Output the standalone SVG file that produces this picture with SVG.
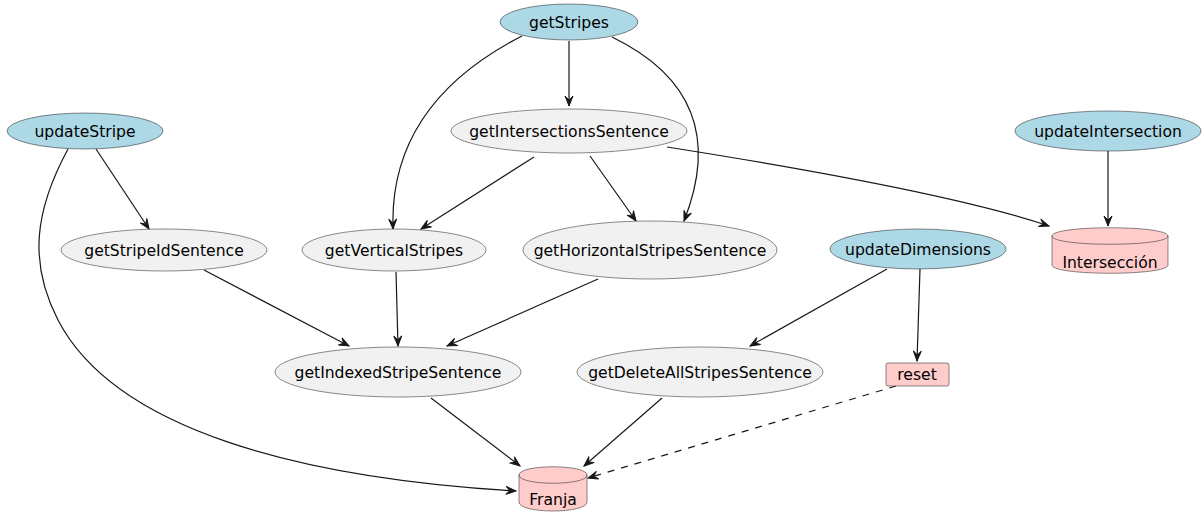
<svg xmlns="http://www.w3.org/2000/svg" width="1204" height="514" viewBox="0 0 1204 514">
  <style>
    .bg { fill: #FFFFFF; }
    .usecase { fill: #F1F1F1; stroke: #181818; stroke-width: 0.5; }
    .entry { fill: #ADD8E6; stroke: #181818; stroke-width: 0.5; }
    .store { fill: #FFCCCC; stroke: #181818; stroke-width: 0.5; }
    .lbl { font-family: "DejaVu Sans", "Liberation Sans", sans-serif; font-size: 15.6px; fill: #000000; text-anchor: middle; }
    .edge { fill: none; stroke: #181818; stroke-width: 1.2; }
    .rim { fill: none; stroke: #181818; stroke-width: 0.5; }
    .dashed { stroke-dasharray: 7 7; }
  </style>
  <defs>
    <marker id="arrow" markerUnits="userSpaceOnUse" markerWidth="12" markerHeight="10" refX="10" refY="4" orient="auto" overflow="visible">
      <path d="M0,0 L10,4 L0,8 L4,4 Z" fill="#181818" stroke="#181818" stroke-width="1"/>
    </marker>
  </defs>
  <rect class="bg" x="0" y="0" width="1204" height="514"/>

  <!-- connectors -->
  <g id="connectors">
    <path class="edge" marker-end="url(#arrow)" d="M569,41 L569,106"/>
    <path class="edge" marker-end="url(#arrow)" d="M522,36 C440,78 390,140 393,229"/>
    <path class="edge" marker-end="url(#arrow)" d="M612,37 C680,70 722,125 684,221"/>
    <path class="edge" marker-end="url(#arrow)" d="M96,149 L149,229"/>
    <path class="edge" marker-end="url(#arrow)" d="M68,149 C35,210 28,262 58,320 C115,430 300,478 516,491"/>
    <path class="edge" marker-end="url(#arrow)" d="M534,157 L421,229"/>
    <path class="edge" marker-end="url(#arrow)" d="M590,156 L636,221"/>
    <path class="edge" marker-end="url(#arrow)" d="M667,147 C800,168 960,196 1049,226"/>
    <path class="edge" marker-end="url(#arrow)" d="M1108,151 L1108,226"/>
    <path class="edge" marker-end="url(#arrow)" d="M204,270 L349,346"/>
    <path class="edge" marker-end="url(#arrow)" d="M396,272 L398,346"/>
    <path class="edge" marker-end="url(#arrow)" d="M598,279 L447,346"/>
    <path class="edge" marker-end="url(#arrow)" d="M887,269 L750,346"/>
    <path class="edge" marker-end="url(#arrow)" d="M920,269 L917,361"/>
    <path class="edge" marker-end="url(#arrow)" d="M431,398 L520,466"/>
    <path class="edge" marker-end="url(#arrow)" d="M662,398 L584,466"/>
    <path class="edge dashed" marker-end="url(#arrow)" d="M896,386 L588,478"/>
  </g>

  <!-- nodes -->
  <g id="getStripes">
    <ellipse class="entry" cx="569" cy="22" rx="69" ry="18"/>
    <text class="lbl" x="569" y="27.5">getStripes</text>
  </g>
  <g id="updateStripe">
    <ellipse class="entry" cx="85" cy="131" rx="78" ry="18"/>
    <text class="lbl" x="85" y="136.5">updateStripe</text>
  </g>
  <g id="getIntersectionsSentence">
    <ellipse class="usecase" cx="569" cy="131" rx="118" ry="22"/>
    <text class="lbl" x="569" y="136.5">getIntersectionsSentence</text>
  </g>
  <g id="updateIntersection">
    <ellipse class="entry" cx="1108" cy="131" rx="93" ry="20"/>
    <text class="lbl" x="1108" y="136.5">updateIntersection</text>
  </g>
  <g id="getStripeIdSentence">
    <ellipse class="usecase" cx="164" cy="250" rx="103" ry="21"/>
    <text class="lbl" x="164" y="255.5">getStripeIdSentence</text>
  </g>
  <g id="getVerticalStripes">
    <ellipse class="usecase" cx="394" cy="250" rx="92" ry="21"/>
    <text class="lbl" x="394" y="255.5">getVerticalStripes</text>
  </g>
  <g id="getHorizontalStripesSentence">
    <ellipse class="usecase" cx="650" cy="250" rx="127" ry="29"/>
    <text class="lbl" x="650" y="255.5">getHorizontalStripesSentence</text>
  </g>
  <g id="updateDimensions">
    <ellipse class="entry" cx="918" cy="249" rx="88" ry="20"/>
    <text class="lbl" x="918" y="254.5">updateDimensions</text>
  </g>
  <g id="Interseccion">
    <path class="store" d="M1052,236 C1052,225 1168,225 1168,236 L1168,265 C1168,276 1052,276 1052,265 Z"/>
    <path class="rim" d="M1052,236 C1052,247 1168,247 1168,236"/>
    <text class="lbl" x="1110" y="267.5">Intersección</text>
  </g>
  <g id="getIndexedStripeSentence">
    <ellipse class="usecase" cx="398" cy="372" rx="123" ry="25"/>
    <text class="lbl" x="398" y="377.5">getIndexedStripeSentence</text>
  </g>
  <g id="getDeleteAllStripesSentence">
    <ellipse class="usecase" cx="700" cy="372" rx="123" ry="25"/>
    <text class="lbl" x="700" y="377.5">getDeleteAllStripesSentence</text>
  </g>
  <g id="reset">
    <rect class="store" x="886" y="363" width="63" height="23" rx="2" ry="2"/>
    <text class="lbl" x="917" y="379.5">reset</text>
  </g>
  <g id="Franja">
    <path class="store" d="M519,475 C519,464 587,464 587,475 L587,502 C587,514 519,514 519,502 Z"/>
    <path class="rim" d="M519,475 C519,486 587,486 587,475"/>
    <text class="lbl" x="553" y="504.5">Franja</text>
  </g>
</svg>
